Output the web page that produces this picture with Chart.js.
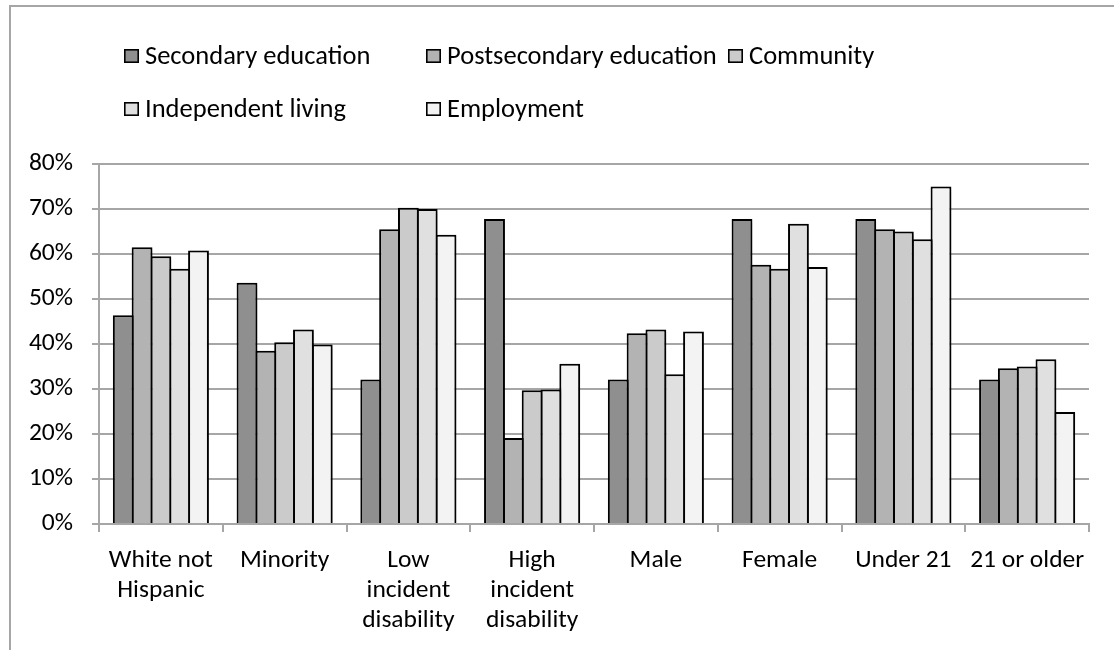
<!DOCTYPE html>
<html>
<head>
<meta charset="utf-8">
<script src="https://cdn.jsdelivr.net/npm/chart.js@4"></script>
<style>
  html, body { margin: 0; padding: 0; background: #fff; }
  #wrap { position: relative; width: 1114px; height: 650px; }
</style>
</head>
<body>
<div id="wrap"><canvas id="chart" width="1114" height="650"></canvas></div>
<script>
// Outcome groups shown along the horizontal axis
const categories = [
  ['White not', 'Hispanic'],
  ['Minority'],
  ['Low', 'incident', 'disability'],
  ['High', 'incident', 'disability'],
  ['Male'],
  ['Female'],
  ['Under 21'],
  ['21 or older']
];

// Percent of students per outcome area
const secondaryEducation     = [46.4, 53.6, 32.1, 67.8, 32.1, 67.8, 67.8, 32.1];
const postsecondaryEducation = [61.5, 38.5, 65.5, 19.1, 42.4, 57.6, 65.5, 34.6];
const community              = [59.5, 40.4, 70.3, 29.7, 43.2, 56.7, 65.0, 35.0];
const independentLiving      = [56.7, 43.2, 70.0, 29.9, 33.3, 66.7, 63.3, 36.6];
const employment             = [60.8, 39.9, 64.3, 35.6, 42.8, 57.1, 75.0, 24.9];

const seriesNames = ['Secondary education', 'Postsecondary education', 'Community', 'Independent living', 'Employment'];
const seriesValues = [secondaryEducation, postsecondaryEducation, community, independentLiving, employment];
const seriesColors = ['#8f8f8f', '#b3b3b3', '#cbcbcb', '#e0e0e0', '#f3f3f3'];

const yTicks = [0, 10, 20, 30, 40, 50, 60, 70, 80];

const FONT = 'Carlito, Calibri, "Liberation Sans", sans-serif';
const GRID = '#a6a6a6';

// White page with the outer frame edge at top and left
const framePlugin = {
  id: 'frame',
  beforeDraw(chart) {
    const ctx = chart.ctx;
    ctx.save();
    ctx.fillStyle = '#fff';
    ctx.fillRect(0, 0, chart.width, chart.height);
    ctx.strokeStyle = '#a6a6a6';
    ctx.lineWidth = 2;
    ctx.beginPath();
    ctx.moveTo(10, chart.height);
    ctx.lineTo(10, 6);
    ctx.lineTo(chart.width, 6);
    ctx.stroke();
    ctx.restore();
  }
};

// Soft drop shadow under the bars
const shadowPlugin = {
  id: 'barShadow',
  beforeDatasetsDraw(chart) {
    const ctx = chart.ctx;
    ctx.save();
    ctx.shadowColor = 'rgba(0,0,0,0.3)';
    ctx.shadowBlur = 4;
    ctx.shadowOffsetX = 2;
    ctx.shadowOffsetY = 2;
  },
  afterDatasetsDraw(chart) {
    chart.ctx.restore();
  }
};

// Legend laid out as a three-column grid above the plot
const gridLegendPlugin = {
  id: 'gridLegend',
  afterDraw(chart) {
    const ctx = chart.ctx;
    const cols = [124, 426, 728];
    const rows = [56, 109];
    ctx.save();
    ctx.font = '26.5px ' + FONT;
    ctx.textBaseline = 'middle';
    ctx.textAlign = 'left';
    chart.data.datasets.forEach((ds, i) => {
      const x = cols[i % 3];
      const y = rows[Math.floor(i / 3)];
      ctx.fillStyle = ds.backgroundColor;
      ctx.fillRect(x, y - 7, 15, 14);
      ctx.strokeStyle = '#000';
      ctx.lineWidth = 1.6;
      ctx.strokeRect(x + 0.8, y - 6.2, 13.4, 12.4);
      ctx.fillStyle = '#000';
      ctx.fillText(ds.label, x + 21, y + 1);
    });
    ctx.restore();
  }
};

const datasets = seriesNames.map((name, i) => ({
  label: name,
  data: seriesValues[i],
  backgroundColor: seriesColors[i],
  borderColor: '#000',
  borderWidth: 2,
  borderSkipped: 'bottom',
  categoryPercentage: 0.76,
  barPercentage: 1.106
}));

new Chart(document.getElementById('chart'), {
  type: 'bar',
  data: { labels: categories, datasets },
  options: {
    responsive: false,
    animation: false,
    devicePixelRatio: 1,
    layout: { padding: { top: 164, left: 10, right: 25, bottom: 0 } },
    plugins: {
      legend: { display: false },
      tooltip: { enabled: false }
    },
    scales: {
      x: {
        offset: true,
        grid: {
          offset: true,
          drawOnChartArea: false,
          drawTicks: true,
          tickLength: 8,
          color: GRID,
          lineWidth: 2
        },
        border: { display: true, color: GRID, width: 2 },
        ticks: {
          color: '#000',
          font: { family: FONT, size: 25.5, lineHeight: '30px' },
          padding: 14,
          maxRotation: 0,
          minRotation: 0,
          autoSkip: false
        },
        afterFit(scale) { scale.height = 126; }
      },
      y: {
        min: 0,
        max: 80,
        afterBuildTicks(scale) { scale.ticks = yTicks.map(v => ({ value: v })); },
        grid: {
          color: GRID,
          lineWidth: 2,
          drawTicks: true,
          tickLength: 7
        },
        border: { display: true, color: GRID, width: 2 },
        ticks: {
          color: '#000',
          font: { family: FONT, size: 25.5 },
          padding: 19,
          callback: v => v + '%'
        },
        afterFit(scale) { scale.width = 89; }
      }
    }
  },
  plugins: [framePlugin, shadowPlugin, gridLegendPlugin]
});
</script>
</body>
</html>
